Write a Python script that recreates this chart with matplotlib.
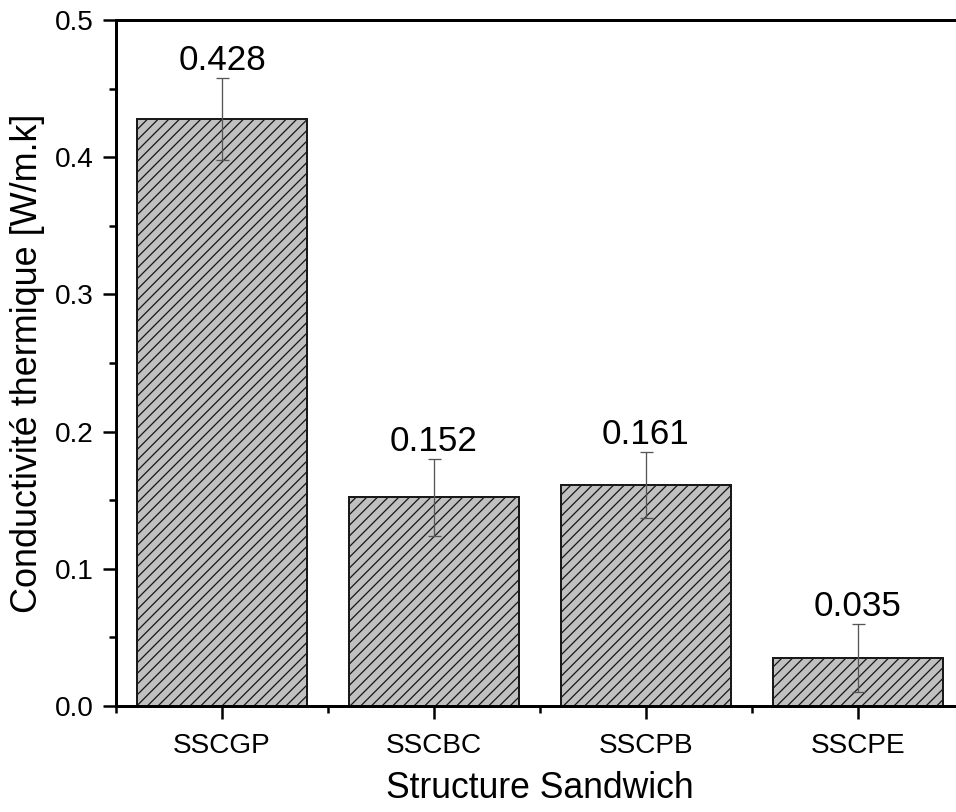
import numpy as np
import matplotlib.pyplot as plt

DPI = 64
PX = 72 / DPI   # points per pixel at this dpi

plt.rcParams['font.family'] = ['Liberation Sans', 'DejaVu Sans']
plt.rcParams['hatch.linewidth'] = 1.3 * PX

# data
structures = ['SSCGP', 'SSCBC', 'SSCPB', 'SSCPE']
conductivity = [0.428, 0.152, 0.161, 0.035]
errors = [0.030, 0.028, 0.024, 0.025]
value_labels = ['0.428', '0.152', '0.161', '0.035']

fig = plt.figure(figsize=(956 / DPI, 812 / DPI), dpi=DPI)
ax = fig.add_axes([116 / 956, 1 - 706 / 812, 848 / 956, 686 / 812])

x = np.arange(1, len(structures) + 1)
ax.bar(x, conductivity, width=0.8, color='#c0c0c0', edgecolor='#1a1a1a',
       linewidth=2 * PX, hatch='//', zorder=2)
ax.errorbar(x, conductivity, yerr=errors, fmt='none', ecolor='#555555',
            elinewidth=1.3 * PX, capsize=6.5 * PX, capthick=1.3 * PX, zorder=3)

for xi, v, e, lab in zip(x, conductivity, errors, value_labels):
    ax.annotate(lab, (xi, v + e), xytext=(0, 8 * PX), textcoords='offset points',
                ha='center', va='baseline', fontsize=35 * PX)

ax.set_xlim(0.5, 4.5)
ax.set_ylim(0, 0.5)
ax.set_xticks(x)
ax.set_xticklabels(structures)
ax.set_xticks(np.arange(0.5, 4.6, 1.0), minor=True)
ax.set_yticks(np.arange(0, 0.51, 0.1))
ax.set_yticks(np.arange(0.05, 0.5, 0.1), minor=True)
ax.yaxis.set_major_formatter(plt.FormatStrFormatter('%.1f'))

ax.tick_params(which='major', direction='out', length=13 * PX, width=2.5 * PX,
               labelsize=28 * PX)
ax.tick_params(axis='x', which='major', pad=14 * PX)
ax.tick_params(axis='y', which='major', pad=9 * PX)
ax.tick_params(which='minor', direction='out', length=7 * PX, width=2.5 * PX)
for s in ['left', 'bottom', 'top']:
    ax.spines[s].set_linewidth(3 * PX)
ax.spines['right'].set_visible(False)

ax.set_xlabel('Structure Sandwich', fontsize=35.5 * PX, labelpad=12 * PX)
ax.set_ylabel('Conductivité thermique [W/m.k]', fontsize=36 * PX, labelpad=10 * PX)

fig.savefig('out.png', dpi=DPI)
